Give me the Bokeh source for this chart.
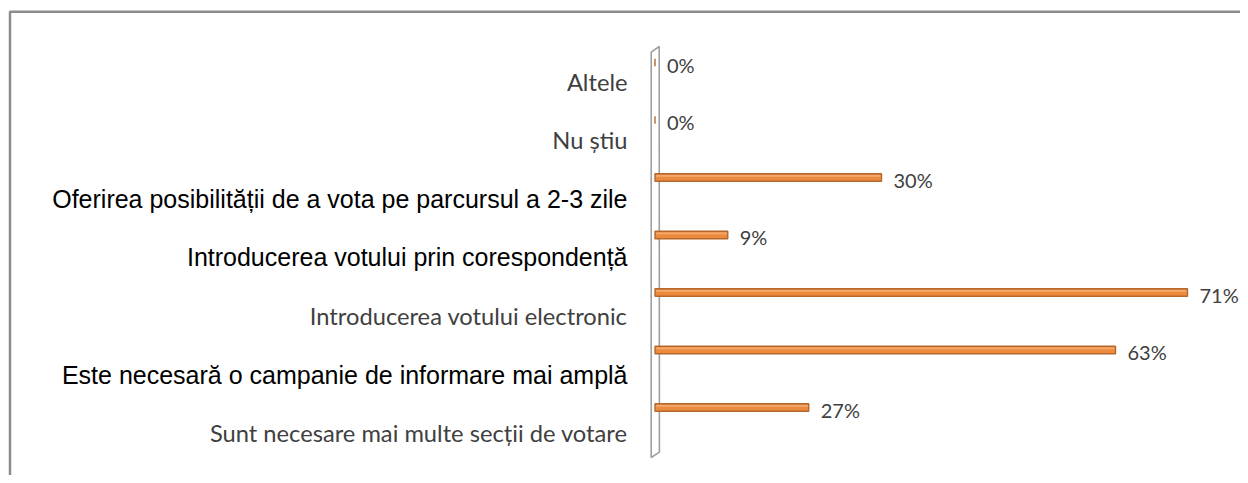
from bokeh.plotting import figure
from bokeh.models import ColumnDataSource, Range1d
from bokeh.core.properties import value
from bokeh.embed import file_html
from bokeh.resources import INLINE

# ---------------- data (top to bottom, as in the picture) ----------------
categories = [
    "Altele",
    "Nu știu",
    "Oferirea posibilității de a vota pe parcursul a 2-3 zile",
    "Introducerea votului prin corespondență",
    "Introducerea votului electronic",
    "Este necesară o campanie de informare mai amplă",
    "Sunt necesare mai multe secții de votare",
]
bar_values = [0, 0, 30.2, 9.7, 71, 61.4, 20.5]   # bar lengths (%)
value_labels = ["0%", "0%", "30%", "9%", "71%", "63%", "27%"]

# ---------------- style ----------------
emphasized = [False, False, True, True, False, True, False]  # Arial-like black labels

W, H = 1240, 475
X0 = 654.5          # canvas px of 0 %
PPX = 7.5           # px per percent
TOP_ROW = 62.0      # canvas px of top bar centre
PPY = 57.5          # px per row

n = len(categories)
x_start = -X0 / PPX
x_end = (W - X0) / PPX
y_end = (n - 1) + TOP_ROW / PPY
y_start = y_end - H / PPY


def xd(px):
    return (px - X0) / PPX


def yd(py):
    return y_end - py / PPY


ypos = [n - 1 - i for i in range(n)]

p = figure(width=W, height=H, output_backend="svg", toolbar_location=None,
           x_range=Range1d(x_start, x_end), y_range=Range1d(y_start, y_end),
           min_border=0, x_axis_location=None, y_axis_location=None,
           background_fill_color="white", border_fill_color="white")
p.outline_line_color = None
p.grid.visible = False

# outer chart border (left and top)
p.line(x=[xd(9.5), xd(9.5), xd(W + 5)], y=[yd(H + 5), yd(11.3), yd(11.3)],
       line_color="#8c8c8c", line_width=2.5)

# 3D wall
p.patch(x=[xd(650.7), xd(658.7), xd(658.9), xd(650.7)],
        y=[yd(51.7), yd(46.0), yd(451.7), yd(457.0)],
        fill_color="white", line_color="#a0a0a0", line_width=1.6)

src = ColumnDataSource(dict(y=ypos, v=bar_values, lab=value_labels))

bar_h = 7.5 / PPY
p.hbar(y="y", left=0, right="v", height=bar_h, source=src,
       fill_color="#EC8B3E", line_color="#B4682E", line_width=1.4)
p.hbar(y=[yy + bar_h * 0.22 for yy in ypos], left=0.15,
       right=[max(v - 0.15, 0.15) for v in bar_values], height=bar_h * 0.25,
       fill_color="#F4AA6E", line_color=None)

p.text(x="v", y="y", text="lab", source=src, x_offset=12, y_offset=2,
       text_align="left", text_baseline="middle",
       text_font=value("Lato"), text_font_size="20px", text_color="#404040")

em_src = ColumnDataSource(dict(
    y=[ypos[i] for i in range(n) if emphasized[i]],
    cat=[categories[i] for i in range(n) if emphasized[i]],
    yoff=[19 + 1.1 * i for i in range(n) if emphasized[i]],
))
pl_src = ColumnDataSource(dict(
    y=[ypos[i] for i in range(n) if not emphasized[i]],
    cat=[categories[i] for i in range(n) if not emphasized[i]],
    yoff=[19 + 1.1 * i for i in range(n) if not emphasized[i]],
))
LABEL_RIGHT = xd(627)
p.text(x=LABEL_RIGHT, y="y", text="cat", source=em_src, y_offset="yoff",
       text_align="right", text_baseline="middle",
       text_font=value("Liberation Sans"), text_font_size="25px", text_color="black")
p.text(x=LABEL_RIGHT, y="y", text="cat", source=pl_src, y_offset="yoff",
       text_align="right", text_baseline="middle",
       text_font=value("Lato"), text_font_size="23.7px", text_color="#404040")

open("out.html", "w").write(file_html(p, INLINE))
